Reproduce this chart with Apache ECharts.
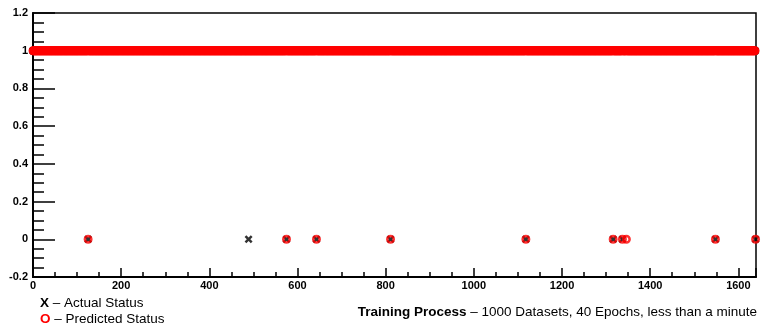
<!DOCTYPE html>
<html>
<head>
<meta charset="utf-8">
<script src="https://cdn.jsdelivr.net/npm/echarts@6/dist/echarts.min.js"></script>
<style>
  html, body { margin: 0; padding: 0; background: #fff; }
  #chart { width: 761px; height: 325px; }
</style>
</head>
<body>
<div id="chart"></div>
<script>
// Number of samples shown along the x axis
const sampleCount = 1640;
// Sample indices whose actual status is 0 (all others are 1)
const actualZeroIdx = [125, 489, 575, 643, 811, 1118, 1316, 1337, 1548, 1639];
// Sample indices whose predicted status is 0 (all others are 1)
const predictedZeroIdx = [125, 575, 643, 811, 1118, 1316, 1337, 1346, 1548, 1639];
// Axis ranges / tick steps
const xRange = [0, 1640, 200];
const yRange = [-0.2, 1.2, 0.2];

function statusSeries(zeroIdx) {
  const zeros = new Set(zeroIdx);
  const out = [];
  for (let i = 0; i < sampleCount; i++) out.push([i, zeros.has(i) ? 0 : 1]);
  return out;
}
const actualData = statusSeries(actualZeroIdx);
const predictedData = statusSeries(predictedZeroIdx);

// bold "X" marker outline
const crossPath = 'path://M0,2.2L2.2,0L5,2.8L7.8,0L10,2.2L7.2,5L10,7.8L7.8,10L5,7.2L2.2,10L0,7.8L2.8,5Z';
const labelFont = { fontFamily: 'Liberation Sans, Arial, sans-serif', fontWeight: 'bold', fontSize: 11, color: '#000' };
const textFont = '13.5px Liberation Sans, Arial, sans-serif';

const chart = echarts.init(document.getElementById('chart'), null, { renderer: 'canvas' });
chart.setOption({
  animation: false,
  backgroundColor: '#fff',
  grid: { left: 33, right: 5, top: 13, bottom: 48, show: true, borderColor: '#000', borderWidth: 1.5, backgroundColor: 'transparent' },
  xAxis: {
    type: 'value', min: xRange[0], max: xRange[1], interval: xRange[2],
    axisLine: { show: true, onZero: false, lineStyle: { color: '#000', width: 2 } },
    axisTick: { show: true, inside: true, length: 9, lineStyle: { color: '#000', width: 1.5 } },
    minorTick: { show: true, splitNumber: 4, length: 5, lineStyle: { color: '#000', width: 1.5 } },
    splitLine: { show: false },
    axisLabel: Object.assign({ margin: 3, showMaxLabel: false, formatter: v => String(v) }, labelFont)
  },
  yAxis: {
    type: 'value', min: yRange[0], max: yRange[1], interval: yRange[2],
    axisLine: { show: true, onZero: false, lineStyle: { color: '#000', width: 2 } },
    axisTick: { show: true, inside: true, length: 22, lineStyle: { color: '#000', width: 1.5 } },
    minorTick: { show: true, splitNumber: 4, length: 11, lineStyle: { color: '#000', width: 1.5 } },
    splitLine: { show: false },
    axisLabel: Object.assign({ margin: 5, formatter: v => String(+v.toFixed(1)) }, labelFont)
  },
  series: [
    {
      name: 'Actual Status', type: 'scatter', data: actualData,
      symbol: crossPath, symbolSize: 8, large: false,
      itemStyle: { color: '#000' }, z: 2
    },
    {
      name: 'Predicted Status', type: 'scatter', data: predictedData,
      symbol: 'circle', symbolSize: 6.5, large: false,
      itemStyle: { color: 'rgba(0,0,0,0)', borderColor: '#ff0000', borderWidth: 2.5 }, z: 3
    }
  ],
  graphic: [
    {
      type: 'text', left: 40, top: 296,
      style: {
        text: '{b|X} – Actual Status',
        font: textFont, fill: '#000',
        rich: { b: { fontWeight: 'bold', fontSize: 13.5, fill: '#000', fontFamily: 'Liberation Sans, Arial, sans-serif' } }
      }
    },
    {
      type: 'text', left: 40, top: 312,
      style: {
        text: '{r|O} – Predicted Status',
        font: textFont, fill: '#000',
        rich: { r: { fontWeight: 'bold', fontSize: 13.5, fill: '#ff0000', fontFamily: 'Liberation Sans, Arial, sans-serif' } }
      }
    },
    {
      type: 'text', right: 4, top: 305,
      style: {
        text: '{b|Training Process} – 1000 Datasets, 40 Epochs, less than a minute',
        font: textFont, fill: '#000',
        rich: { b: { fontWeight: 'bold', fontSize: 13.5, fill: '#000', fontFamily: 'Liberation Sans, Arial, sans-serif' } }
      }
    }
  ]
});
</script>
</body>
</html>
